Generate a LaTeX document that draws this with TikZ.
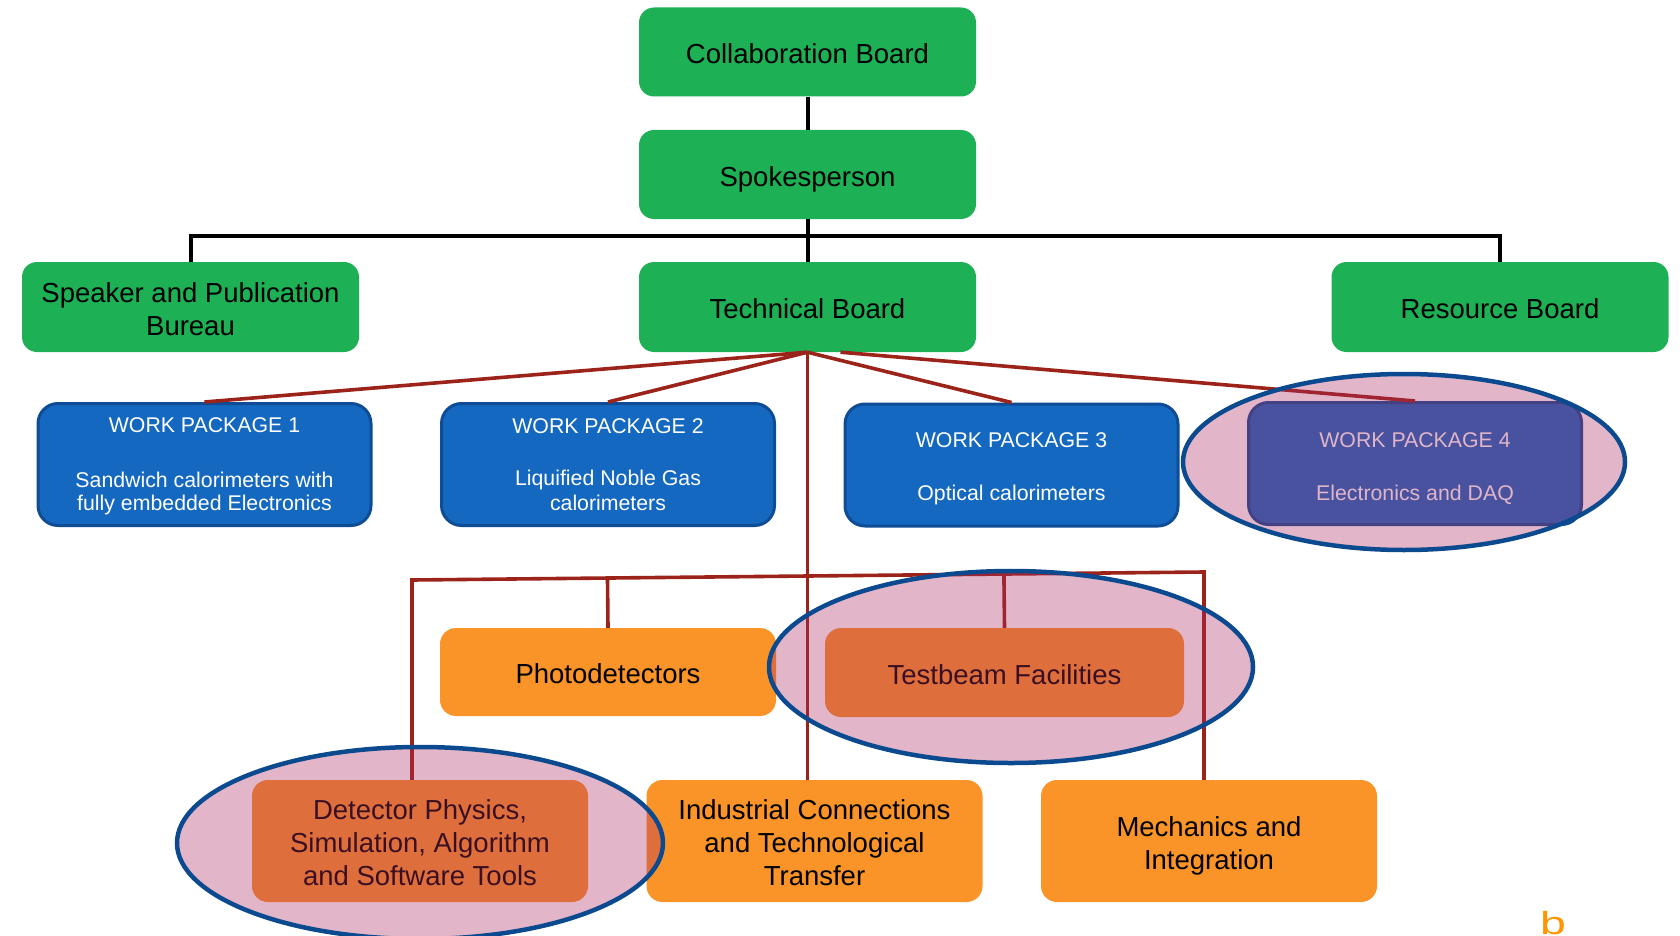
\documentclass[tikz,border=0pt]{standalone}
\usepackage{fontspec}
\usepackage{graphicx}
\setmainfont{Liberation Sans}
\usetikzlibrary{calc}
\definecolor{grn}{RGB}{29,176,85}
\definecolor{wpblue}{RGB}{20,104,192}
\definecolor{wpedge}{RGB}{14,76,150}
\definecolor{org}{RGB}{250,148,41}
\definecolor{redln}{RGB}{155,35,25}
\definecolor{hl}{RGB}{171,43,100}
\definecolor{hledge}{RGB}{12,74,143}
\definecolor{logo}{RGB}{255,150,0}
\newcommand{\firstbig}{\rule{0pt}{28.9pt}}
\newcommand{\firstwp}[1]{\rule{0pt}{#1}}
\begin{document}
\begin{tikzpicture}[x=1pt,y=-1pt,
  bigtext/.style={font=\fontsize{27.5}{33}\selectfont,
    execute at begin node={\rule{0pt}{28.9pt}},
    execute at end node={\rule[-5.8pt]{0pt}{0pt}}},
  greenbox/.style={bigtext, fill=grn, rounded corners=15pt, minimum width=337pt, minimum height=89pt, inner sep=0pt, align=center},
  wpbox/.style={fill=wpblue, draw=wpedge, line width=3pt, rounded corners=20pt, minimum width=333pt, minimum height=122pt, inner sep=0pt, align=center, text=white, font=\fontsize{21.3}{23.5}\selectfont,
    execute at end node={\rule[-4.5pt]{0pt}{0pt}}},
  orgbox/.style={bigtext, fill=org, rounded corners=16pt, minimum width=336pt, inner sep=0pt, align=center},
  blk/.style={line width=4pt, draw=black},
  rln/.style={line width=3.6pt, draw=redln},
  hlfill/.style={fill=hl, fill opacity=0.35},
  hlborder/.style={draw=hledge, line width=4.5pt}]
\useasboundingbox (0,0) rectangle (1680,936);

% green boxes
\node[greenbox] (cb) at (807.5,52) {Collaboration Board};
\node[greenbox] (sp) at (807.5,174.5) {Spokesperson};
\node[greenbox, minimum height=90pt] (tb) at (807.5,307) {Technical Board};
\node[greenbox, minimum height=90pt] (spk) at (190.5,307) {\firstbig Speaker and Publication\\Bureau};
\node[greenbox, minimum height=90pt] (rb) at (1500,307) {Resource Board};

% work packages
\node[wpbox] (wp1) at (204.5,464.5) {\firstwp{19pt}WORK PACKAGE 1\\[31pt]Sandwich calorimeters with\\fully embedded Electronics};
\node[wpbox] (wp2) at (608,464.5) {\firstwp{19.3pt}WORK PACKAGE 2\\[29pt]Liquified Noble Gas\\[1.5pt]calorimeters};
\node[wpbox] (wp3) at (1011.5,465) {\firstwp{22.3pt}WORK PACKAGE 3\\[30pt]Optical calorimeters};
\node[wpbox] (wp4) at (1415,463.5) {\firstwp{25.3pt}WORK PACKAGE 4\\[29pt]Electronics and DAQ};

% orange boxes
\node[orgbox, minimum height=88pt] (photo) at (608,672) {Photodetectors};
\node[orgbox, minimum height=89pt, minimum width=359pt] (tbf) at (1004.5,672.5) {Testbeam Facilities};
\node[orgbox, minimum height=122pt] (det) at (420,841) {\firstbig Detector Physics,\\Simulation, Algorithm\\and Software Tools};
\node[orgbox, minimum height=122pt] (ind) at (814.5,841) {\firstbig Industrial Connections\\and Technological\\Transfer};
\node[orgbox, minimum height=122pt] (mech) at (1209,841) {\firstbig Mechanics and\\Integration};

% black connectors
\coordinate (hb) at (807.5,236);
\draw[blk] (cb.south) -- (sp.north);
\draw[blk] (sp.south) -- (tb.north);
\draw[blk] (spk.north) |- (hb) -| (rb.north);

% red connectors
\draw[rln] (tb.south) -- (wp1.north);
\draw[rln] (tb.south) -- (wp2.north);
\draw[rln] (tb.south) -- (wp3.north);
\draw[rln] ($(tb.south)+(33,0)$) -- (wp4.north);
\draw[rln] (tb.south) -- (tb.south |- ind.north);
\coordinate (bl) at (412,580);
\coordinate (br) at (1204,572);
\draw[rln] (det.north -| bl) -- (bl) -- (br) -- (br |- mech.north);
\draw[rln] (photo.north) -- ($(bl)!(photo.north)!(br)$);
\draw[rln] (tbf.north) -- ($(bl)!(tbf.north)!(br)$);

% highlight ellipses
\fill[hlfill] (1404,462) ellipse [x radius=221pt, y radius=88pt];
\fill[hlfill] (1011,667) ellipse [x radius=242pt, y radius=96pt];
\fill[hlfill] (420,843) ellipse [x radius=243pt, y radius=96pt];
\draw[hlborder] (1404,462) ellipse [x radius=221pt, y radius=88pt];
\draw[hlborder] (1011,667) ellipse [x radius=242pt, y radius=96pt];
\draw[hlborder] (420,843) ellipse [x radius=243pt, y radius=96pt];

% logo fragment
\node[text=logo, font=\fontsize{32}{32}\selectfont, anchor=base west, inner sep=0pt] (logo) at (1540,934) {\scalebox{1.45}[1]{b}};
\end{tikzpicture}
\end{document}
